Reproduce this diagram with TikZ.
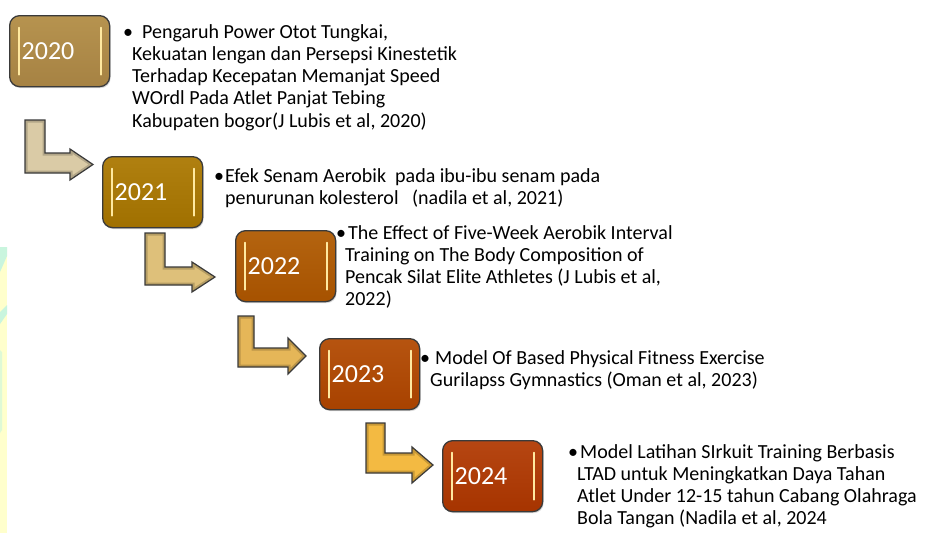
\documentclass[tikz,border=0pt]{standalone}
\usepackage{fontspec}
\setmainfont{Carlito}
\usetikzlibrary{shadows}
\definecolor{boxline}{HTML}{3A3A3A}
\definecolor{arrline}{HTML}{3A3A3A}
\definecolor{hlcol}{HTML}{FFE9A0}
\definecolor{yA}{HTML}{B6934F}\definecolor{yAb}{HTML}{A68243}
\definecolor{yB}{HTML}{B08010}\definecolor{yBb}{HTML}{A07000}
\definecolor{yC}{HTML}{B46410}\definecolor{yCb}{HTML}{A65200}
\definecolor{yD}{HTML}{B65410}\definecolor{yDb}{HTML}{A84200}
\definecolor{yE}{HTML}{B64612}\definecolor{yEb}{HTML}{A63400}
\definecolor{aA}{HTML}{DACBA6}
\definecolor{aB}{HTML}{DEC07A}
\definecolor{aC}{HTML}{E5B658}
\definecolor{aD}{HTML}{F3BA42}
\definecolor{bgyellow}{HTML}{FFFFCC}
\definecolor{bgmint}{HTML}{C9F5DE}
\newcommand\bentarrow[9]{%
  \fill[arrcol] (#1,#3) -- (#2,#3) -- (#2,#4) -- (#6,#4) -- (#6,#7) -- (#9,{(#7+#8)/2}) -- (#6,#8) -- (#6,#5) -- (#1,#5) -- cycle;
  \begin{scope}
    \clip (#1,#3) -- (#2,#3) -- (#2,#4) -- (#6,#4) -- (#6,#7) -- (#9,{(#7+#8)/2}) -- (#6,#8) -- (#6,#5) -- (#1,#5) -- cycle;
    \draw[line width=5pt, black, opacity=0.18, line join=miter] (#1,#3) -- (#2,#3) -- (#2,#4) -- (#6,#4) -- (#6,#7) -- (#9,{(#7+#8)/2}) -- (#6,#8) -- (#6,#5) -- (#1,#5) -- cycle;
  \end{scope}
  \draw[bentstyle] (#1,#3) -- (#2,#3) -- (#2,#4) -- (#6,#4) -- (#6,#7) -- (#9,{(#7+#8)/2}) -- (#6,#8) -- (#6,#5) -- (#1,#5) -- cycle;
}
\tikzset{
  bentstyle/.style={draw=arrline, line width=1.2pt, line join=miter},
  yearbox/.style={rounded corners=10pt, draw=boxline, line width=1.3pt,
    text width=76pt, align=left, inner xsep=12pt, inner ysep=0pt,
    minimum height=71pt, anchor=north west, text=white,
    font=\fontsize{26}{28}\selectfont,
    drop shadow={shadow xshift=1pt, shadow yshift=-1.5pt, opacity=0.3},
    path picture={
      \draw[hlcol, line width=1.8pt, line cap=round]
        ([xshift=9pt,yshift=-12pt]path picture bounding box.north west) --
        ([xshift=9pt,yshift=12pt]path picture bounding box.south west);
      \draw[hlcol, line width=1.8pt, line cap=round]
        ([xshift=-9pt,yshift=-12pt]path picture bounding box.north east) --
        ([xshift=-9pt,yshift=12pt]path picture bounding box.south east);
    }},
  desc/.style={anchor=base west, inner sep=0pt,
    font=\fontsize{20}{22.25}\selectfont, text=black},
}
\newcommand\bul[2]{\hspace*{#1pt}\makebox[0pt]{•}\hspace*{#2pt}}
\newenvironment{lines}{\begin{tabular}[t]{@{}l@{}}}{\end{tabular}}
\begin{document}
\begin{tikzpicture}[x=1pt,y=-1pt]
\useasboundingbox (0,0) rectangle (927,533);
\fill[white] (0,0) rectangle (927,533);
% faint background remnant at left edge
\fill[bgyellow] (0,247) rectangle (7,533);
\fill[bgmint] (0,247) -- (7,247) -- (7,256) -- (0,272) -- cycle;
\fill[bgmint] (0,312) -- (7,305) -- (7,314) -- (0,324) -- cycle;
\fill[bgmint, opacity=0.6] (0,350) -- (2,352) -- (2,430) -- (0,433) -- cycle;

% arrows
\colorlet{arrcol}{aA}
\bentarrow{25}{45}{120}{153}{173}{70}{149}{180}{93}
\colorlet{arrcol}{aB}
\bentarrow{145}{165}{233}{267}{285}{192}{262}{292}{215}
\colorlet{arrcol}{aC}
\bentarrow{238}{254}{316}{348}{367}{288}{338}{374}{306}
\colorlet{arrcol}{aD}
\bentarrow{366}{385}{423}{453}{473}{412}{447}{483}{433}

% year boxes
\node[yearbox, top color=yA, bottom color=yAb] (y2020) at (9,15) {2020};
\node[yearbox, top color=yB, bottom color=yBb] (y2021) at (102,156) {2021};
\node[yearbox, top color=yC, bottom color=yCb] (y2022) at (235,230) {2022};
\node[yearbox, top color=yD, bottom color=yDb] (y2023) at (319,338) {2023};
\node[yearbox, top color=yE, bottom color=yEb] (y2024) at (442,440) {2024};

% descriptions
\node[desc] (t2020) at (132,38) {\begin{lines}\bul{-4}{14}Pengaruh Power Otot Tungkai,\\
Kekuatan lengan dan Persepsi Kinestetik\\
Terhadap Kecepatan Memanjat Speed\\
WOrdl Pada Atlet Panjat Tebing\\
Kabupaten bogor(J Lubis et al, 2020)\end{lines}};
\node[desc] (t2021) at (225,182) {\begin{lines}\bul{-6}{6}Efek Senam Aerobik\ \ pada ibu-ibu senam pada\\
penurunan kolesterol\ \ \ (nadila et al, 2021)\end{lines}};
\node[desc] (t2022) at (345,239) {\begin{lines}\bul{-4}{7}The Effect of Five-Week Aerobik Interval\\
Training on The Body Composition of\\
Pencak Silat Elite Athletes (J Lubis et al,\\
2022)\end{lines}};
\node[desc] (t2023) at (430,364) {\begin{lines}\bul{-5}{10}Model Of Based Physical Fitness Exercise\\
Gurilapss Gymnastics (Oman et al, 2023)\end{lines}};
\node[desc] (t2024) at (577,458) {\begin{lines}\bul{-4}{7}Model Latihan SIrkuit Training Berbasis\\
LTAD untuk Meningkatkan Daya Tahan\\
Atlet Under 12-15 tahun Cabang Olahraga\\
Bola Tangan (Nadila et al, 2024\end{lines}};
\end{tikzpicture}
\end{document}
